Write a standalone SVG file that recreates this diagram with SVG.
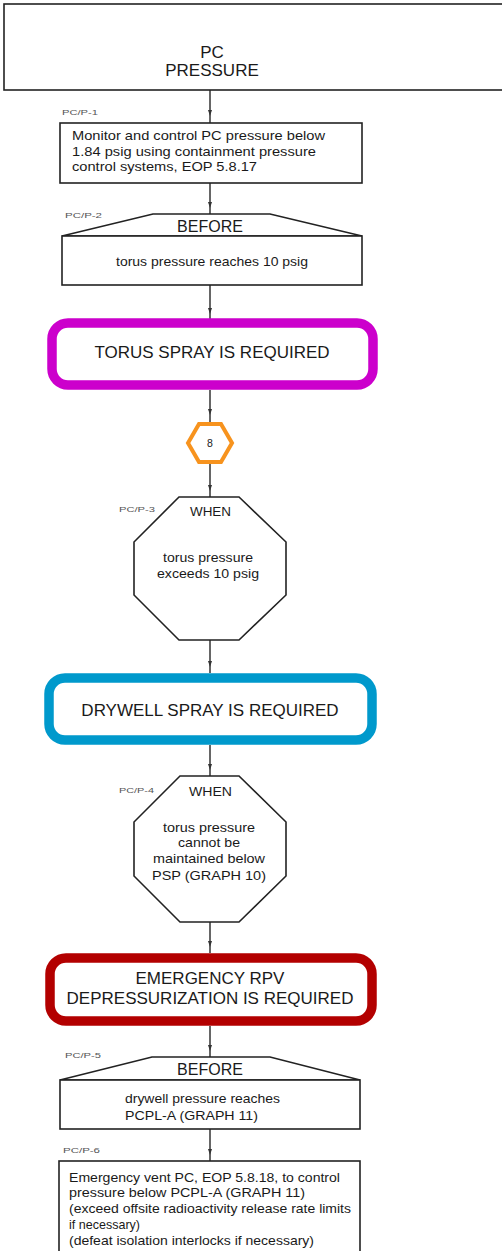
<svg xmlns="http://www.w3.org/2000/svg" width="502" height="1251" viewBox="0 0 502 1251">
<defs>
<marker id="ah" markerWidth="6" markerHeight="6" refX="3" refY="3" orient="auto" markerUnits="userSpaceOnUse">
<path d="M0,1 L6,3 L0,5 Z" fill="#333"/>
</marker>
<style>
text{font-family:"Liberation Sans",Arial,sans-serif;fill:#1a1a1a}
.box{fill:#fff;stroke:#222;stroke-width:1.6}
.lbl{font-size:8px;fill:#555}
.body{font-size:13px}
.hdr{font-size:16px;text-anchor:middle}
.big{font-size:17px;text-anchor:middle}
.mid{text-anchor:middle}
.conn{fill:none;stroke:#333;stroke-width:1.5;marker-mid:url(#ah)}
</style>
</defs>
<rect width="502" height="1251" fill="#fff"/>
<g id="connectors">
<path class="conn" d="M210,90 V113 V123"/>
<path class="conn" d="M210,183 V205 V214"/>
<path class="conn" d="M210,285 V311 V320"/>
<path class="conn" d="M210,390 V412 V422"/>
<path class="conn" d="M210,464 V488 V497"/>
<path class="conn" d="M210,640 V664 V673"/>
<path class="conn" d="M210,745 V767 V776"/>
<path class="conn" d="M210,922 V944 V953"/>
<path class="conn" d="M210,1026 V1048 V1057"/>
<path class="conn" d="M210,1129 V1152 V1161"/>
</g>
<g id="n0">
<rect class="box" x="4" y="4" width="510" height="86"/>
<text class="big" x="212" y="58" font-size="15.5">PC</text>
<text class="big" x="212" y="76" font-size="15.5">PRESSURE</text>
</g>
<g id="n1">
<text class="lbl" x="62" y="115" textLength="36" lengthAdjust="spacingAndGlyphs">PC/P-1</text>
<rect class="box" x="60" y="123" width="302" height="60"/>
<text class="body" x="72" y="140" textLength="253" lengthAdjust="spacingAndGlyphs">Monitor and control PC pressure below</text>
<text class="body" x="72" y="156" textLength="244" lengthAdjust="spacingAndGlyphs">1.84 psig using containment pressure</text>
<text class="body" x="72" y="171" textLength="185" lengthAdjust="spacingAndGlyphs">control systems, EOP 5.8.17</text>
</g>
<g id="n2">
<text class="lbl" x="65" y="218" textLength="37" lengthAdjust="spacingAndGlyphs">PC/P-2</text>
<polygon class="box" points="153,214 270,214 362,236 62,236"/>
<rect class="box" x="62" y="236" width="300" height="49"/>
<text class="hdr" x="210" y="232">BEFORE</text>
<text class="body" x="116" y="266" textLength="192" lengthAdjust="spacingAndGlyphs">torus pressure reaches 10 psig</text>
</g>
<g id="n3">
<rect x="52" y="323" width="321" height="62" rx="16" fill="#fff" stroke="#cc00cc" stroke-width="9.5"/>
<text class="big" x="212" y="358" font-size="16">TORUS SPRAY IS REQUIRED</text>
</g>
<g id="n4">
<polygon points="188,443 199,424 221,424 232,443 221,462 199,462" fill="#fff" stroke="#f7931e" stroke-width="4"/>
<text class="mid" x="210" y="447" font-size="10.5">8</text>
</g>
<g id="n5">
<text class="lbl" x="119" y="512" textLength="36" lengthAdjust="spacingAndGlyphs">PC/P-3</text>
<polygon class="box" points="179,497 239,497 286,542 286,595 239,640 179,640 134,595 134,542"/>
<text x="190" y="516" font-size="13.5" textLength="41" lengthAdjust="spacingAndGlyphs">WHEN</text>
<text class="body" x="163" y="562" textLength="90" lengthAdjust="spacingAndGlyphs">torus pressure</text>
<text class="body" x="157" y="578" textLength="102" lengthAdjust="spacingAndGlyphs">exceeds 10 psig</text>
</g>
<g id="n6">
<rect x="49" y="678" width="323" height="62" rx="16" fill="#fff" stroke="#0099cc" stroke-width="9.5"/>
<text class="big" x="210" y="716">DRYWELL SPRAY IS REQUIRED</text>
</g>
<g id="n7">
<text class="lbl" x="119" y="793" textLength="35" lengthAdjust="spacingAndGlyphs">PC/P-4</text>
<polygon class="box" points="180,776 239,776 286,822 286,876 239,922 180,922 134,876 134,822"/>
<text x="189" y="796" font-size="13.5" textLength="43" lengthAdjust="spacingAndGlyphs">WHEN</text>
<text class="body" x="163" y="832" textLength="92" lengthAdjust="spacingAndGlyphs">torus pressure</text>
<text class="body" x="178" y="847" textLength="62" lengthAdjust="spacingAndGlyphs">cannot be</text>
<text class="body" x="153" y="863" textLength="112" lengthAdjust="spacingAndGlyphs">maintained below</text>
<text class="body" x="152" y="880" textLength="114" lengthAdjust="spacingAndGlyphs">PSP (GRAPH 10)</text>
</g>
<g id="n8">
<rect x="50" y="958" width="322" height="63" rx="16" fill="#fff" stroke="#b30000" stroke-width="9.5"/>
<text class="big" x="210" y="984">EMERGENCY RPV</text>
<text class="big" x="210" y="1004">DEPRESSURIZATION IS REQUIRED</text>
</g>
<g id="n9">
<text class="lbl" x="65" y="1058" textLength="36" lengthAdjust="spacingAndGlyphs">PC/P-5</text>
<polygon class="box" points="152,1057 270,1057 360,1080 60,1080"/>
<rect class="box" x="60" y="1080" width="300" height="49"/>
<text class="hdr" x="210" y="1075">BEFORE</text>
<text class="body" x="125" y="1103" textLength="155" lengthAdjust="spacingAndGlyphs">drywell pressure reaches</text>
<text class="body" x="125" y="1120" textLength="133" lengthAdjust="spacingAndGlyphs">PCPL-A (GRAPH 11)</text>
</g>
<g id="n10">
<text class="lbl" x="63" y="1153" textLength="37" lengthAdjust="spacingAndGlyphs">PC/P-6</text>
<rect class="box" x="59" y="1161" width="301" height="95"/>
<text class="body" x="69" y="1182" textLength="271" lengthAdjust="spacingAndGlyphs">Emergency vent PC, EOP 5.8.18, to control</text>
<text class="body" x="69" y="1197" textLength="236" lengthAdjust="spacingAndGlyphs">pressure below PCPL-A  (GRAPH 11)</text>
<text class="body" x="69" y="1213" textLength="282" lengthAdjust="spacingAndGlyphs">(exceed offsite radioactivity release rate limits</text>
<text class="body" x="69" y="1229" textLength="71" lengthAdjust="spacingAndGlyphs">if necessary)</text>
<text class="body" x="69" y="1245" textLength="245" lengthAdjust="spacingAndGlyphs">(defeat isolation interlocks if necessary)</text>
</g>
</svg>
